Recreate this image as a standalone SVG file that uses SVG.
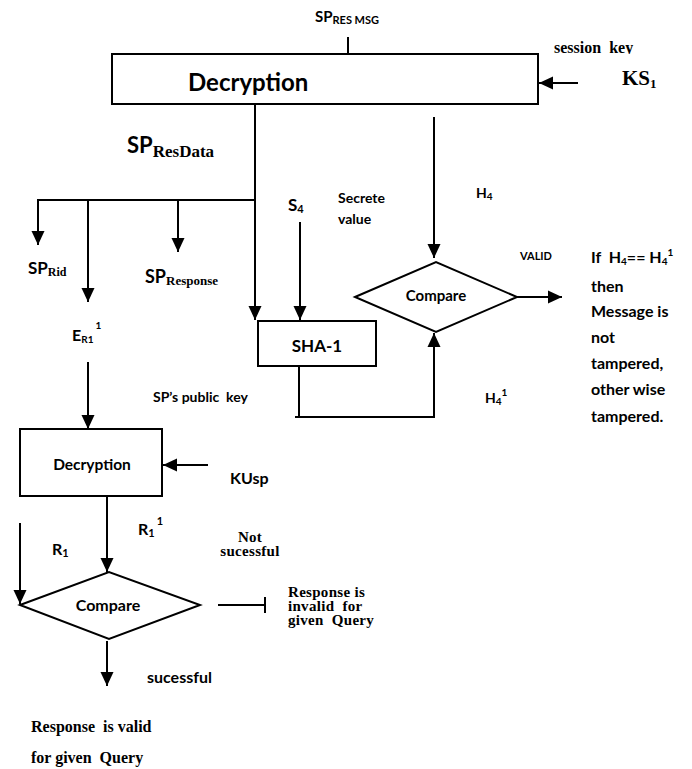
<svg xmlns="http://www.w3.org/2000/svg" width="692" height="769" viewBox="0 0 692 769">
  <style>
    text { white-space: pre; }
    .sans { font-family: Lato, "Liberation Sans", sans-serif; font-weight: bold; fill: #000; }
    .serif { font-family: "Liberation Serif", serif; font-weight: bold; fill: #000; }
    .tight { font-size: 15px; letter-spacing: 0.3px; }
    .box { fill: #fff; stroke: #000; stroke-width: 2; }
    .line { fill: none; stroke: #000; stroke-width: 2; }
    .arrow { fill: none; stroke: #000; stroke-width: 2; marker-end: url(#head); }
  </style>
  <defs>
    <marker id="head" markerUnits="userSpaceOnUse" markerWidth="14" markerHeight="14" viewBox="0 0 14 14" refX="14" refY="7" orient="auto">
      <path d="M0,0.5 L14,7 L0,13.5 z" fill="#000"/>
    </marker>
    <clipPath id="keyClip">
      <rect x="540" y="30" width="120" height="24"/>
    </clipPath>
  </defs>
  <rect width="692" height="769" fill="#fff"/>

  <!-- connectors -->
  <g id="connectors">
    <line class="line" x1="348" y1="37" x2="348" y2="54"/>
    <line class="arrow" x1="578" y1="83" x2="539" y2="83"/>
    <line class="arrow" x1="255" y1="104" x2="255" y2="320"/>
    <line class="line" x1="37" y1="200" x2="255" y2="200"/>
    <line class="arrow" x1="38" y1="200" x2="38" y2="245"/>
    <line class="arrow" x1="88" y1="200" x2="88" y2="302"/>
    <line class="arrow" x1="178" y1="200" x2="178" y2="252"/>
    <line class="arrow" x1="300" y1="222" x2="300" y2="320"/>
    <line class="arrow" x1="434" y1="117" x2="434" y2="258"/>
    <line class="arrow" x1="517" y1="297" x2="562" y2="297"/>
    <path class="arrow" d="M299,366 V417 H434 V333"/>
    <line class="line" x1="295" y1="417" x2="299" y2="417"/>
    <line class="arrow" x1="88" y1="362" x2="88" y2="429"/>
    <line class="arrow" x1="208" y1="465" x2="163" y2="465"/>
    <line class="arrow" x1="107" y1="496" x2="107" y2="572"/>
    <line class="arrow" x1="20" y1="523" x2="20" y2="604"/>
    <line class="line" x1="218" y1="605" x2="265" y2="605"/>
    <line class="line" x1="265" y1="597" x2="265" y2="613"/>
    <line class="arrow" x1="107" y1="641" x2="107" y2="686"/>
  </g>

  <!-- main decryption block -->
  <g id="decrypt-main">
    <rect class="box" x="112" y="54" width="426" height="50"/>
    <text class="sans" x="188" y="91" font-size="24">Decryption</text>
  </g>

  <g id="sp-res-msg">
    <text class="sans" x="315" y="22" font-size="15">SP<tspan font-size="11" dy="2">RES MSG</tspan></text>
  </g>

  <g id="session-key">
    <text class="serif" x="554" y="53" font-size="16" clip-path="url(#keyClip)">session  key</text>
    <text class="serif" x="622" y="85" font-size="21">KS<tspan font-size="13" dy="3">1</tspan></text>
  </g>

  <g id="sp-resdata">
    <text class="sans" x="127" y="153" font-size="22">SP<tspan class="serif" font-size="17" dy="4">ResData</tspan></text>
  </g>

  <g id="sp-rid">
    <text class="sans" x="28" y="274" font-size="17">SP<tspan class="serif" font-size="12" dy="2">Rid</tspan></text>
  </g>

  <g id="sp-response">
    <text class="sans" x="145" y="283" font-size="18">SP<tspan class="serif" font-size="13" dy="2">Response</tspan></text>
  </g>

  <g id="s4">
    <text class="sans" x="288" y="211" font-size="17">S<tspan font-size="11" dy="2">4</tspan></text>
    <text class="sans" x="338" y="203" font-size="14">Secrete</text>
    <text class="sans" x="338" y="224" font-size="14">value</text>
  </g>

  <g id="h4">
    <text class="sans" x="476" y="198" font-size="14">H<tspan font-size="10" dy="2">4</tspan></text>
  </g>

  <g id="sha1">
    <rect class="box" x="258" y="321" width="118" height="45"/>
    <text class="sans" x="317" y="352" font-size="17" text-anchor="middle">SHA-1</text>
  </g>

  <g id="compare-hash">
    <polygon class="box" points="355,297 436,262 517,297 436,332"/>
    <text class="sans" x="436" y="301" font-size="15" text-anchor="middle">Compare</text>
  </g>

  <g id="valid">
    <text class="sans" x="520" y="260" font-size="11">VALID</text>
  </g>

  <g id="hash-result">
    <text class="sans" x="591" y="263" font-size="16">If  H<tspan font-size="10" dy="2">4</tspan><tspan dy="-2">== H</tspan><tspan font-size="10" dy="2">4</tspan><tspan font-size="10" dy="-9">1</tspan></text>
    <text class="sans" x="591" y="292" font-size="16">then</text>
    <text class="sans" x="591" y="317" font-size="16">Message is</text>
    <text class="sans" x="591" y="343" font-size="16">not</text>
    <text class="sans" x="591" y="369" font-size="16">tampered,</text>
    <text class="sans" x="591" y="395" font-size="16">other wise</text>
    <text class="sans" x="591" y="422" font-size="16">tampered.</text>
  </g>

  <g id="h4-prime">
    <text class="sans" x="485" y="403" font-size="14">H<tspan font-size="10" dy="2">4</tspan><tspan font-size="10" dy="-9">1</tspan></text>
  </g>

  <g id="er1">
    <text class="sans" x="72" y="341" font-size="16">E<tspan font-size="10" dy="2">R1</tspan><tspan font-size="10" dy="-14" dx="2">1</tspan></text>
  </g>

  <g id="sp-public-key">
    <text class="sans" x="153" y="402" font-size="14">SP’s public  key</text>
  </g>

  <g id="decrypt-r1">
    <rect class="box" x="20" y="429" width="142" height="67"/>
    <text class="sans" x="92" y="470" font-size="15.5" text-anchor="middle">Decryption</text>
  </g>

  <g id="kusp">
    <text class="sans" x="230" y="484" font-size="16">KUsp</text>
  </g>

  <g id="r1-prime">
    <text class="sans" x="138" y="535" font-size="16">R<tspan font-size="11" dy="2">1</tspan><tspan font-size="11" dy="-12" dx="2">1</tspan></text>
  </g>

  <g id="r1">
    <text class="sans" x="52" y="555" font-size="16">R<tspan font-size="11" dy="2">1</tspan></text>
  </g>

  <g id="not-successful">
    <text class="serif tight" x="250" y="542" text-anchor="middle">Not</text>
    <text class="serif tight" x="250" y="556" text-anchor="middle">sucessful</text>
  </g>

  <g id="compare-r1">
    <polygon class="box" points="20,605 109,572 200,605 109,639"/>
    <text class="sans" x="108" y="611" font-size="16" text-anchor="middle">Compare</text>
  </g>

  <g id="invalid-result">
    <text class="serif tight" x="288" y="597">Response is</text>
    <text class="serif tight" x="288" y="611">invalid  for</text>
    <text class="serif tight" x="288" y="625">given  Query</text>
  </g>

  <g id="successful">
    <text class="sans" x="147" y="683" font-size="16">sucessful</text>
  </g>

  <g id="valid-result">
    <text class="serif" x="31" y="732" font-size="16">Response  is valid</text>
    <text class="serif" x="31" y="763" font-size="16">for given  Query</text>
  </g>
</svg>
